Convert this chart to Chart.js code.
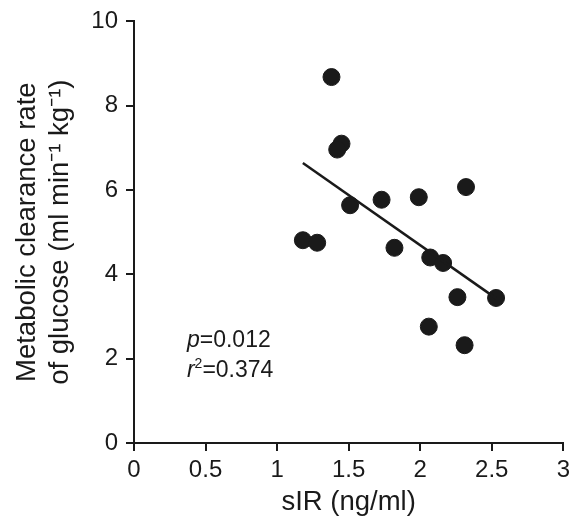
<!DOCTYPE html>
<html>
<head>
<meta charset="utf-8">
<script src="https://cdn.jsdelivr.net/npm/chart.js@4/dist/chart.umd.min.js"></script>
<style>
  html, body { margin: 0; padding: 0; background: #fff; overflow: hidden; }
  #chart { display: block; margin-top: -1px; }
</style>
</head>
<body>
<canvas id="chart" width="575" height="524"></canvas>
<script>
// sIR vs metabolic clearance rate of glucose
const sIR = [1.38, 1.45, 1.42, 1.51, 1.73, 1.99, 2.32, 1.18, 1.28, 1.82, 2.07, 2.16, 2.26, 2.53, 2.06, 2.31];
const mcr = [8.68, 7.10, 6.96, 5.64, 5.77, 5.83, 6.07, 4.81, 4.75, 4.63, 4.40, 4.27, 3.46, 3.44, 2.76, 2.32];

// fitted regression line
const fitX = [1.18, 2.53];
const fitY = [6.64, 3.43];

const xTicks = [0, 0.5, 1, 1.5, 2, 2.5, 3];
const yTicks = [0, 2, 4, 6, 8, 10];

const statsText = [
  { italic: "p", rest: "=0.012" },
  { italic: "r", sup: "2", rest: "=0.374" },
];

const FONT = "'Liberation Sans', Arial, Helvetica, sans-serif";
const INK = "#1a1a1a";

const statsPlugin = {
  id: "statsText",
  afterDraw(chart) {
    const { ctx } = chart;
    const x0 = chart.scales.x.getPixelForValue(0.37);
    let y = chart.scales.y.getPixelForValue(2.27);
    ctx.save();
    ctx.fillStyle = INK;
    ctx.textBaseline = "alphabetic";
    ctx.textAlign = "left";
    statsText.forEach((row) => {
      let x = x0;
      ctx.font = "italic 23px " + FONT;
      ctx.fillText(row.italic, x, y);
      x += ctx.measureText(row.italic).width;
      if (row.sup) {
        ctx.font = "14px " + FONT;
        ctx.fillText(row.sup, x, y - 9);
        x += ctx.measureText(row.sup).width;
      }
      ctx.font = "23px " + FONT;
      ctx.fillText(row.rest, x, y);
      y += 30;
    });
    ctx.restore();
  },
};

new Chart(document.getElementById("chart"), {
  type: "scatter",
  data: {
    datasets: [
      {
        data: sIR.map((x, i) => ({ x, y: mcr[i] })),
        backgroundColor: INK,
        borderColor: INK,
        pointRadius: 8.5,
        pointHoverRadius: 8.5,
        order: 2,
      },
      {
        type: "line",
        data: fitX.map((x, i) => ({ x, y: fitY[i] })),
        borderColor: INK,
        borderWidth: 2.5,
        pointRadius: 0,
        fill: false,
        order: 1,
      },
    ],
  },
  options: {
    responsive: false,
    animation: false,
    devicePixelRatio: 1,
    layout: { padding: { top: 21, right: 0, left: 0, bottom: 0 } },
    plugins: {
      legend: { display: false },
      tooltip: { enabled: false },
    },
    scales: {
      x: {
        type: "linear",
        min: 0,
        max: 3,
        afterBuildTicks(scale) {
          scale.ticks = xTicks.map((v) => ({ value: v }));
        },
        afterFit(scale) {
          scale.height = 80;
        },
        ticks: {
          color: INK,
          font: { family: FONT, size: 24 },
          padding: 5,
          maxRotation: 0,
          callback: (v) => String(v),
        },
        grid: {
          display: true,
          drawOnChartArea: false,
          drawTicks: true,
          tickLength: 8,
          color: INK,
          lineWidth: 2,
        },
        border: { display: true, color: INK, width: 2 },
        title: {
          display: true,
          text: "sIR (ng/ml)",
          color: INK,
          font: { family: FONT, size: 27.5, lineHeight: 1.2 },
          padding: { top: 0, bottom: 4 },
        },
      },
      y: {
        type: "linear",
        min: 0,
        max: 10,
        afterBuildTicks(scale) {
          scale.ticks = yTicks.map((v) => ({ value: v }));
        },
        afterFit(scale) {
          scale.width = 134;
        },
        ticks: {
          color: INK,
          font: { family: FONT, size: 24 },
          padding: 8,
          callback: (v) => String(v),
        },
        grid: {
          display: true,
          drawOnChartArea: false,
          drawTicks: true,
          tickLength: 8,
          color: INK,
          lineWidth: 2,
        },
        border: { display: true, color: INK, width: 2 },
        title: {
          display: true,
          text: ["Metabolic clearance rate", "of glucose (ml min\u207B\u00B9 kg\u207B\u00B9)"],
          color: INK,
          font: { family: FONT, size: 27.5, lineHeight: 1.2 },
          padding: { top: 11, bottom: 0 },
        },
      },
    },
  },
  plugins: [statsPlugin],
});
</script>
</body>
</html>
